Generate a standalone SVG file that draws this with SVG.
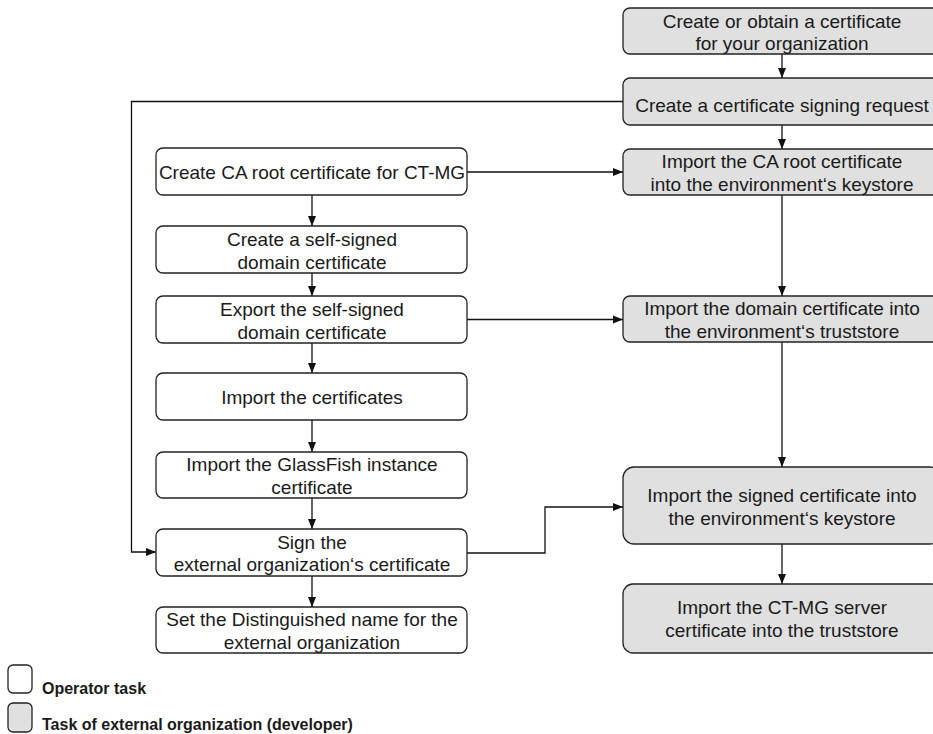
<svg xmlns="http://www.w3.org/2000/svg" width="933" height="734" viewBox="0 0 933 734">
<style>
.box{fill:#ffffff;stroke:#222;stroke-width:1.3}
.ext{fill:#e0e0e0;stroke:#222;stroke-width:1.3}
.t{font-family:"Liberation Sans",Arial,sans-serif;font-size:19px;fill:#1a1a1a;text-anchor:middle}
.lg{font-family:"Liberation Sans",Arial,sans-serif;font-size:16px;font-weight:bold;fill:#1a1a1a}
.c{fill:none;stroke:#111;stroke-width:1.3}
</style>
<defs>
<marker id="ah" markerUnits="userSpaceOnUse" markerWidth="10" markerHeight="10" viewBox="0 0 10 10" refX="10" refY="5" orient="auto">
<path d="M0,1 L10,5 L0,9 Z" fill="#111"/>
</marker>
</defs>
<rect width="933" height="734" fill="#ffffff"/>
<g id="connectors">
<path class="c" d="M782,54 V78" marker-end="url(#ah)"/>
<path class="c" d="M782,125 V149" marker-end="url(#ah)"/>
<path class="c" d="M782,195 V296" marker-end="url(#ah)"/>
<path class="c" d="M782,342 V467" marker-end="url(#ah)"/>
<path class="c" d="M782,544 V584" marker-end="url(#ah)"/>
<path class="c" d="M312,195 V226" marker-end="url(#ah)"/>
<path class="c" d="M312,273 V296" marker-end="url(#ah)"/>
<path class="c" d="M312,343 V373" marker-end="url(#ah)"/>
<path class="c" d="M312,420 V452" marker-end="url(#ah)"/>
<path class="c" d="M312,498 V529" marker-end="url(#ah)"/>
<path class="c" d="M312,576 V607" marker-end="url(#ah)"/>
<path class="c" d="M467,172 H623" marker-end="url(#ah)"/>
<path class="c" d="M467,319.5 H623" marker-end="url(#ah)"/>
<path class="c" d="M467,553 H545 V507 H623" marker-end="url(#ah)"/>
<path class="c" d="M623,101.5 H131.5 V552 H156" marker-end="url(#ah)"/>
</g>
<g id="n1"><rect class="ext" x="623" y="8" width="318" height="46" rx="7"/><text class="t" x="782" y="28">Create or obtain a certificate</text><text class="t" x="782" y="50">for your organization</text></g>
<g id="n2"><rect class="ext" x="623" y="78" width="318" height="47" rx="7"/><text class="t" x="782" y="112">Create a certificate signing request</text></g>
<g id="n3"><rect class="ext" x="623" y="149" width="318" height="46" rx="7"/><text class="t" x="782" y="168">Import the CA root certificate</text><text class="t" x="782" y="191">into the environment‘s keystore</text></g>
<g id="n4"><rect class="ext" x="623" y="296" width="318" height="46" rx="7"/><text class="t" x="782" y="315">Import the domain certificate into</text><text class="t" x="782" y="338">the environment‘s truststore</text></g>
<g id="n5"><rect class="ext" x="623" y="467" width="318" height="77" rx="11"/><text class="t" x="782" y="501.5">Import the signed certificate into</text><text class="t" x="782" y="525">the environment‘s keystore</text></g>
<g id="n6"><rect class="ext" x="623" y="584" width="318" height="69" rx="10"/><text class="t" x="782" y="614">Import the CT-MG server</text><text class="t" x="782" y="637">certificate into the truststore</text></g>
<g id="a1"><rect class="box" x="156" y="148" width="311" height="47" rx="7"/><text class="t" x="312" y="178.5">Create CA root certificate for CT-MG</text></g>
<g id="a2"><rect class="box" x="156" y="226" width="311" height="47" rx="7"/><text class="t" x="312" y="245.5">Create a self-signed</text><text class="t" x="312" y="268.5">domain certificate</text></g>
<g id="a3"><rect class="box" x="156" y="296" width="311" height="47" rx="7"/><text class="t" x="312" y="315.5">Export the self-signed</text><text class="t" x="312" y="338.5">domain certificate</text></g>
<g id="a4"><rect class="box" x="156" y="373" width="311" height="47" rx="7"/><text class="t" x="312" y="404">Import the certificates</text></g>
<g id="a5"><rect class="box" x="156" y="452" width="311" height="46" rx="7"/><text class="t" x="312" y="471">Import the GlassFish instance</text><text class="t" x="312" y="494">certificate</text></g>
<g id="a6"><rect class="box" x="156" y="529" width="311" height="47" rx="7"/><text class="t" x="312" y="548.5">Sign the</text><text class="t" x="312" y="570.5">external organization‘s certificate</text></g>
<g id="a7"><rect class="box" x="156" y="607" width="311" height="46" rx="7"/><text class="t" x="312" y="626">Set the Distinguished name for the</text><text class="t" x="312" y="649">external organization</text></g>
<g id="legend">
<rect class="box" x="8" y="665" width="24" height="28" rx="5" stroke="#444"/>
<text class="lg" x="42" y="694">Operator task</text>
<rect class="ext" x="8" y="703" width="24" height="29" rx="5" stroke="#444"/>
<text class="lg" x="42" y="730">Task of external organization (developer)</text>
</g>
</svg>
